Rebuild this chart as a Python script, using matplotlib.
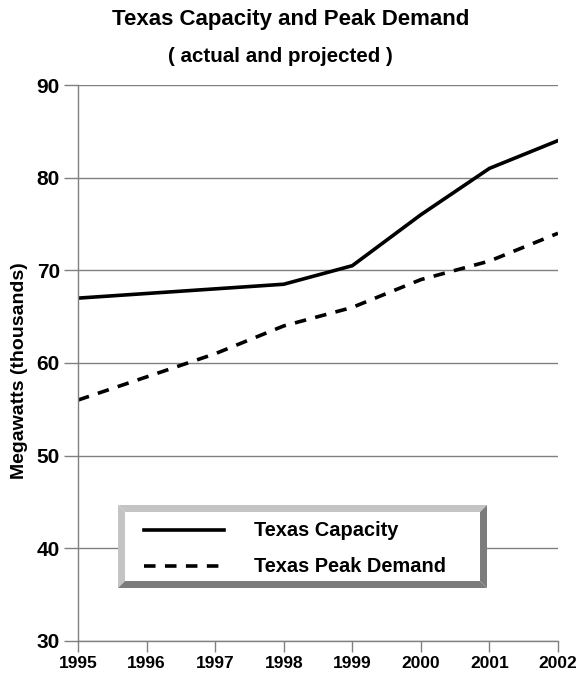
"""
Line chart of Texas generating capacity against peak demand.
"""

import matplotlib.pyplot as plt
from matplotlib.lines import Line2D
from matplotlib.patches import Polygon, Rectangle

plt.switch_backend("Agg")
plt.rcParams["font.family"] = ["Liberation Sans", "DejaVu Sans"]

years = [1995, 1996, 1997, 1998, 1999, 2000, 2001, 2002]
capacity = [67.0, 67.5, 68.0, 68.5, 70.5, 76.0, 81.0, 84.0]
peak_demand = [56.0, 58.5, 61.0, 64.0, 66.0, 69.0, 71.0, 74.0]
y_ticks = [30, 40, 50, 60, 70, 80, 90]

W, H = 581, 679
fig = plt.figure(figsize=(W / 100, H / 100), dpi=100)
ax = fig.add_axes([78 / W, 1 - 641 / H, 480 / W, 556 / H])

ax.plot(years, capacity, color="black", linewidth=2.6, solid_joinstyle="round")
ax.plot(years, peak_demand, color="black", linewidth=2.6, dashes=(3.2, 2.6))

ax.set_xlim(years[0], years[-1])
ax.set_ylim(y_ticks[0], y_ticks[-1])
ax.set_xticks(years)
ax.set_yticks(y_ticks)
ax.grid(axis="y", color="#808080", linewidth=1.0)
ax.set_axisbelow(True)

grey = "#808080"
for side in ("top", "right"):
    ax.spines[side].set_visible(False)
for side in ("left", "bottom"):
    ax.spines[side].set_color(grey)
    ax.spines[side].set_linewidth(1.0)
ax.tick_params(axis="y", length=10, width=1.0, color=grey, labelsize=15, pad=3)
ax.tick_params(axis="x", length=8, width=1.0, color=grey, labelsize=12.5, pad=3)
for lbl in ax.get_xticklabels() + ax.get_yticklabels():
    lbl.set_fontweight("bold")

ax.set_ylabel("Megawatts (thousands)", fontsize=14, fontweight="bold")
ax.yaxis.set_label_coords(-0.104, 0.486)

fig.text(291 / W, 1 - 19 / H, "Texas Capacity and Peak Demand",
         ha="center", va="center", fontsize=16, fontweight="bold")
fig.text(280 / W, 1 - 57 / H, "( actual and projected )",
         ha="center", va="center", fontsize=14.8, fontweight="bold")

# bevelled legend frame, drawn in figure pixel coordinates
x0, y0, x1, y1, b = 118, H - 588, 487, H - 505, 7
light, dark = "#c4c4c4", "#7c7c7c"
fig.patches.append(Rectangle((x0 / W, y0 / H), (x1 - x0) / W, (y1 - y0) / H,
                             transform=fig.transFigure, facecolor="white",
                             edgecolor="none", zorder=5))
bevels = [
    ([(x0, y0), (x0 + b, y0 + b), (x0 + b, y1 - b), (x0, y1)], light),
    ([(x0, y1), (x0 + b, y1 - b), (x1 - b, y1 - b), (x1, y1)], light),
    ([(x1, y1), (x1 - b, y1 - b), (x1 - b, y0 + b), (x1, y0)], dark),
    ([(x1, y0), (x1 - b, y0 + b), (x0 + b, y0 + b), (x0, y0)], dark),
]
for pts, col in bevels:
    fig.patches.append(Polygon([(px / W, py / H) for px, py in pts], closed=True,
                               transform=fig.transFigure, facecolor=col,
                               edgecolor="none", zorder=6))

handles = [
    Line2D([], [], color="black", linewidth=2.6),
    Line2D([], [], color="black", linewidth=2.6, dashes=(3.2, 2.6)),
]
leg = fig.legend(handles, ["Texas Capacity", "Texas Peak Demand"],
                 loc="center left", bbox_to_anchor=(134 / W, 1 - 549 / H),
                 frameon=False, handlelength=4.0, handletextpad=1.5,
                 labelspacing=0.85, borderpad=0,
                 prop={"size": 14.4, "weight": "bold"})
leg.set_zorder(7)

fig.savefig("out.png", dpi=100)
plt.close(fig)
